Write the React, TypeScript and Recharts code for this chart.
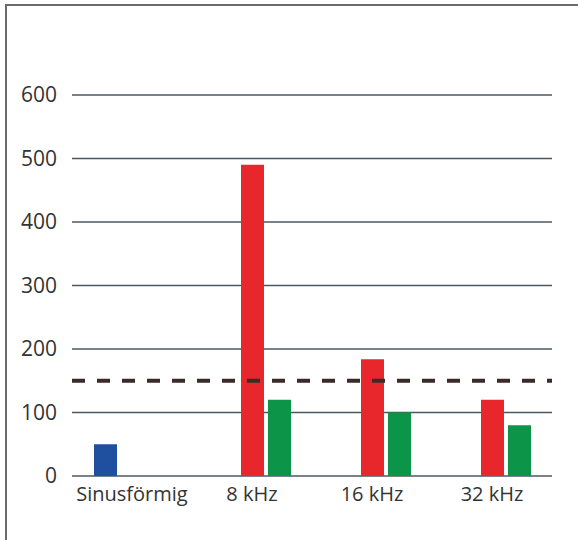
import { Bar, BarChart, CartesianGrid, ReferenceLine, XAxis, YAxis } from "recharts";

// Values.
const categories = ["Sinusförmig", "8 kHz", "16 kHz", "32 kHz"];
const blueValues = [50, null, null, null];
const redValues = [null, 490, 184, 120];
const greenValues = [null, 120, 100, 80];
const yTicks = [0, 100, 200, 300, 400, 500, 600];
const threshold = 150;

const data = categories.map((name, i) => ({
  name,
  blue: blueValues[i],
  red: redValues[i],
  green: greenValues[i],
}));

const FONT = "'Open Sans', sans-serif";
const TEXT = "#333333";
const GRID = "#4b5a62";

export default function App() {
  return (
    <div
      style={{
        position: "absolute",
        left: 0,
        top: 0,
        width: 578,
        height: 540,
        background: "#ffffff",
        fontFamily: FONT,
      }}
    >
      {/* frame, only the left and top edges show in the reference */}
      <div
        style={{
          position: "absolute",
          left: 5,
          top: 4,
          width: 573,
          height: 536,
          borderLeft: "2px solid #6b6b6b",
          borderTop: "2px solid #6b6b6b",
        }}
      />
      <BarChart
        width={578}
        height={540}
        data={data}
        margin={{ top: 95, right: 26, bottom: 34, left: 0 }}
        barSize={23}
        barGap={4}
        barCategoryGap={21}
        style={{ position: "absolute", left: 0, top: 0 }}
      >
        <CartesianGrid vertical={false} stroke={GRID} strokeWidth={1.5} />
        <XAxis
          dataKey="name"
          axisLine={false}
          tickLine={false}
          tickSize={0}
          tickMargin={11}
          height={30}
          interval={0}
          tick={{ fill: TEXT, fontSize: 20, fontFamily: FONT }}
        />
        <YAxis
          width={72}
          domain={[0, 600]}
          ticks={yTicks}
          axisLine={false}
          tickLine={false}
          tickSize={0}
          tickMargin={15}
          tick={{ fill: TEXT, fontSize: 21, fontFamily: FONT }}
        />
        <Bar dataKey="blue" fill="#1f4f9f" isAnimationActive={false} />
        <Bar dataKey="red" fill="#e8272c" isAnimationActive={false} />
        <Bar dataKey="green" fill="#0c9548" isAnimationActive={false} />
        <ReferenceLine
          y={threshold}
          stroke="#3a2b29"
          strokeWidth={4}
          strokeDasharray="13 12"
        />
      </BarChart>
    </div>
  );
}
